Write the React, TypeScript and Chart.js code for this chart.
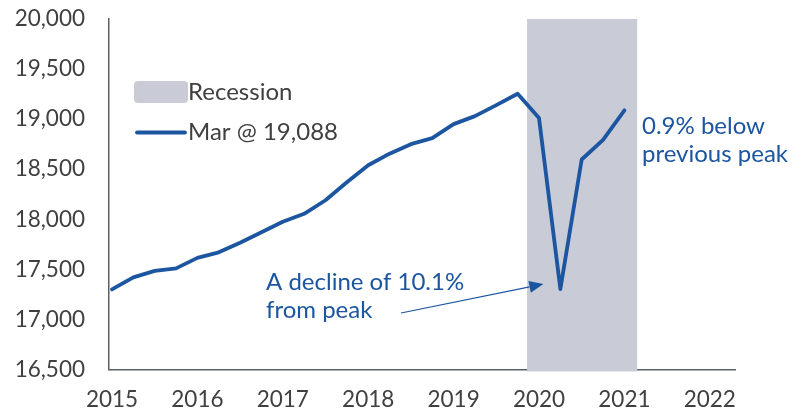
import React, { useEffect, useRef } from "react";
import { Chart, registerables } from "chart.js";

Chart.register(...registerables);

// ---- data ----
const quarters = [
  "2015Q1", "2015Q2", "2015Q3", "2015Q4",
  "2016Q1", "2016Q2", "2016Q3", "2016Q4",
  "2017Q1", "2017Q2", "2017Q3", "2017Q4",
  "2018Q1", "2018Q2", "2018Q3", "2018Q4",
  "2019Q1", "2019Q2", "2019Q3", "2019Q4",
  "2020Q1", "2020Q2", "2020Q3", "2020Q4",
  "2021Q1",
];
const gdpValues = [
  17300, 17420, 17485, 17510,
  17615, 17670, 17765, 17870,
  17975, 18055, 18190, 18370,
  18540, 18655, 18750, 18810,
  18950, 19030, 19140, 19254,
  19011, 17303, 18597, 18794,
  19088,
];
const yearTicks = [2015, 2016, 2017, 2018, 2019, 2020, 2021, 2022];
const yMin = 16500;
const yMax = 20000;
const yStep = 500;
const recessionStart = 2019.86;
const recessionEnd = 2021.15;
const troughQuarter = "2020Q2";
const recessionLabel = "Recession";
const seriesLabel = "Mar @ 19,088";
const declineNote = ["A decline of 10.1%", "from peak"];
const peakNote = ["0.9% below", "previous peak"];

const LINE = "#1c55a0";
const SHADE = "#c9ccd6";
const TEXT = "#404040";
const AXIS = "#5b5f68";
const FONT = "Lato";

const quarterToYear = (q: string) => {
  const y = parseInt(q.slice(0, 4), 10);
  const n = parseInt(q.slice(5), 10);
  return y + (n - 1) / 4;
};

const overlayPlugin = {
  id: "overlay",
  beforeDatasetsDraw(chart: any) {
    const { ctx, chartArea, scales } = chart;
    const x0 = scales.x.getPixelForValue(recessionStart);
    const x1 = scales.x.getPixelForValue(recessionEnd);
    ctx.save();
    ctx.fillStyle = SHADE;
    ctx.fillRect(x0, chartArea.top, x1 - x0, chartArea.bottom - chartArea.top + 2);
    ctx.restore();
  },
  afterDatasetsDraw(chart: any) {
    const { ctx, scales } = chart;
    ctx.save();
    // legend
    ctx.fillStyle = SHADE;
    ctx.beginPath();
    (ctx as any).roundRect(134, 81, 54, 22, 4);
    ctx.fill();
    ctx.strokeStyle = LINE;
    ctx.lineWidth = 3.8;
    ctx.lineCap = "round";
    ctx.beginPath();
    ctx.moveTo(137, 132.5);
    ctx.lineTo(185, 132.5);
    ctx.stroke();
    ctx.font = `24px ${FONT}`;
    ctx.fillStyle = TEXT;
    ctx.textBaseline = "middle";
    ctx.textAlign = "left";
    ctx.fillText(recessionLabel, 188, 92);
    ctx.fillText(seriesLabel, 188, 132);

    // annotations
    ctx.fillStyle = LINE;
    ctx.font = `24px ${FONT}`;
    ctx.fillText(declineNote[0], 266, 282);
    ctx.fillText(declineNote[1], 266, 310);
    ctx.fillText(peakNote[0], 642, 126);
    ctx.fillText(peakNote[1], 642, 154);

    // arrow to trough
    const ti = quarters.indexOf(troughQuarter);
    const tx = scales.x.getPixelForValue(quarterToYear(quarters[ti])) - 17;
    const ty = scales.y.getPixelForValue(gdpValues[ti]) - 5;
    const sx = 401, sy = 313;
    const ang = Math.atan2(ty - sy, tx - sx);
    const hl = 14, hw = 6;
    const bx = tx - hl * Math.cos(ang);
    const by = ty - hl * Math.sin(ang);
    ctx.strokeStyle = LINE;
    ctx.lineWidth = 1.2;
    ctx.lineCap = "butt";
    ctx.beginPath();
    ctx.moveTo(sx, sy);
    ctx.lineTo(bx, by);
    ctx.stroke();
    ctx.beginPath();
    ctx.moveTo(tx, ty);
    ctx.lineTo(bx + hw * Math.sin(ang), by - hw * Math.cos(ang));
    ctx.lineTo(bx - hw * Math.sin(ang), by + hw * Math.cos(ang));
    ctx.closePath();
    ctx.fill();
    ctx.restore();
  },
};

const zeroPad = (axis: any) => {
  axis.paddingTop = 0;
  axis.paddingBottom = 0;
  axis.paddingLeft = 0;
  axis.paddingRight = 0;
};

export default function App() {
  const ref = useRef<HTMLCanvasElement | null>(null);
  useEffect(() => {
    document.body.style.margin = "0";
    if (!ref.current) return;
    const chart = new Chart(ref.current, {
      type: "line",
      data: {
        datasets: [
          {
            label: seriesLabel,
            data: quarters.map((q, i) => ({ x: quarterToYear(q), y: gdpValues[i] })),
            borderColor: LINE,
            borderWidth: 3.8,
            pointRadius: 0,
            tension: 0,
            borderJoinStyle: "round",
            borderCapStyle: "round",
          },
        ],
      },
      options: {
        animation: false,
        responsive: false,
        maintainAspectRatio: false,
        layout: { padding: { top: 19, right: 58, left: 0, bottom: 0 } },
        plugins: { legend: { display: false }, tooltip: { enabled: false } },
        scales: {
          x: {
            type: "linear",
            min: 2014.965,
            max: 2022.295,
            grid: { display: false },
            border: { display: true, color: AXIS, width: 1.5 },
            afterBuildTicks: (axis: any) => {
              axis.ticks = yearTicks.map((v) => ({ value: v }));
            },
            afterFit: (axis: any) => {
              axis.height = 43.5;
              zeroPad(axis);
            },
            ticks: {
              autoSkip: false,
              maxRotation: 0,
              padding: 9,
              color: TEXT,
              font: { family: FONT, size: 22.5 },
              callback: (v: any) => String(v),
            },
          },
          y: {
            min: yMin,
            max: yMax,
            grid: { display: false },
            border: { display: true, color: AXIS, width: 1.5 },
            afterFit: (axis: any) => {
              axis.width = 109;
              zeroPad(axis);
            },
            ticks: {
              stepSize: yStep,
              padding: 16,
              color: TEXT,
              font: { family: FONT, size: 22.5 },
              callback: (v: any) => Number(v).toLocaleString("en-US"),
            },
          },
        },
      },
      plugins: [overlayPlugin],
    });
    return () => chart.destroy();
  }, []);
  return (
    <div style={{ width: 793, height: 413, background: "#fff" }}>
      <canvas ref={ref} width={793} height={413} style={{ width: 793, height: 413 }} />
    </div>
  );
}
